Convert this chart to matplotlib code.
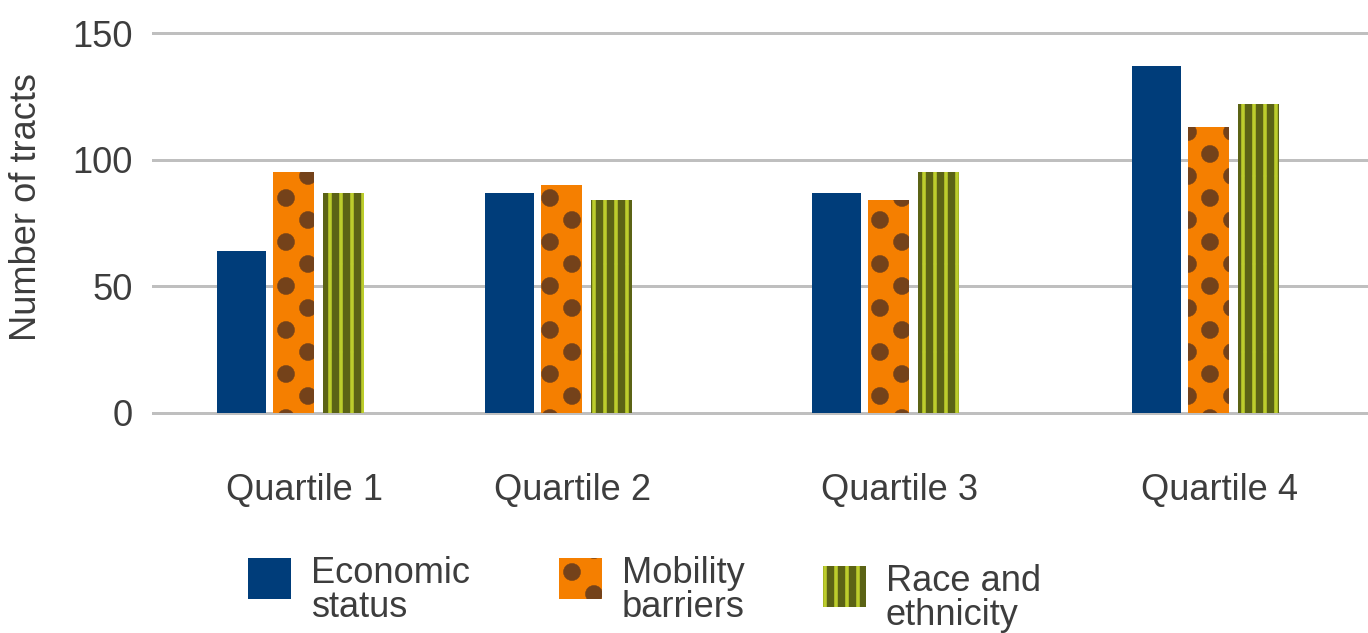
import numpy as np
import matplotlib
matplotlib.use('Agg')
import matplotlib.pyplot as plt
import matplotlib.hatch as mhatch
from matplotlib.path import Path

# data
quartiles = ['Quartile 1', 'Quartile 2', 'Quartile 3', 'Quartile 4']
economic = [64, 87, 87, 137]
mobility = [95, 90, 84, 113]
race = [87, 84, 95, 122]
series_names = ['Economic\nstatus', 'Mobility\nbarriers', 'Race and\nethnicity']

# layout: x axis runs in figure pixels (axes covers x = 152..1368)
group_left = np.array([217, 485, 812, 1132])
label_shift = 88

DPI = 88          # hatch tile = DPI px, gives ~44 px dot spacing
PT = 72 / DPI     # px -> pt


class BigDots(mhatch.HatchPatternBase):
    # staggered large filled dots, replaces the small '.' hatch
    def __init__(self, hatch, density):
        self.centers = []
        if '.' in hatch:
            for r in range(5):
                xs = [0.0, 0.5, 1.0] if r % 2 == 0 else [0.25, 0.75]
                self.centers += [(x, r * 0.25) for x in xs]
        circ = Path.unit_circle()
        self.shape = circ.vertices * 0.098
        self.shape_codes = circ.codes
        self.num_vertices = len(self.centers) * len(self.shape)

    def set_vertices_and_codes(self, vertices, codes):
        vertices[:] = np.concatenate([self.shape + c for c in self.centers])
        codes[:] = np.tile(self.shape_codes, len(self.centers))


class Stripes(mhatch.HatchPatternBase):
    # filled vertical stripes, replaces the '|' hatch
    def __init__(self, hatch, density):
        self.n = 8 if '|' in hatch else 0
        self.num_vertices = (self.n + 1) * 5 if self.n else 0

    def set_vertices_and_codes(self, vertices, codes):
        w = 0.019
        parts = []
        for i in range(self.n + 1):
            x = i / self.n
            parts.append([[x - w, 0], [x + w, 0], [x + w, 1], [x - w, 1], [x - w, 0]])
        vertices[:] = np.concatenate(parts)
        codes[:] = np.tile([Path.MOVETO, Path.LINETO, Path.LINETO,
                            Path.LINETO, Path.CLOSEPOLY], self.n + 1)


mhatch._hatch_types = [BigDots if t is mhatch.SmallFilledCircles
                       else Stripes if t is mhatch.VerticalHatch
                       else t for t in mhatch._hatch_types]

plt.rcParams['font.family'] = ['Liberation Sans', 'DejaVu Sans']
plt.rcParams['hatch.linewidth'] = 0.3
text_color = '#3d3d3d'
fs = 36.2 * PT

W, H = 1368, 633
fig = plt.figure(figsize=(W / DPI, H / DPI), dpi=DPI)
ax = fig.add_axes([152 / W, 1 - 418 / H, 1 - 152 / W, (418 - 28) / H])

b1 = ax.bar(group_left, economic, width=49, align='edge',
            color='#003d7a', linewidth=0, zorder=3)
b2 = ax.bar(group_left + 56, mobility, width=41, align='edge',
            color='#f57f00', edgecolor='#74421a', linewidth=0,
            hatch='.', zorder=3)
b3 = ax.bar(group_left + 106, race, width=41, align='edge',
            color='#5b6315', edgecolor='#bccd2c', linewidth=0,
            hatch='|', zorder=3)

ax.set_xlim(152, W)
ax.set_ylim(-2, 152)
ax.set_yticks([0, 50, 100, 150])
ax.set_xticks(group_left + label_shift)
ax.set_xticklabels(quartiles)
ax.grid(axis='y', color='#bfbfbf', linewidth=3 * PT, zorder=0)
for s in ax.spines.values():
    s.set_visible(False)
ax.tick_params(axis='y', length=0, pad=19 * PT, labelsize=fs, labelcolor=text_color)
ax.tick_params(axis='x', length=0, pad=55 * PT, labelsize=fs, labelcolor=text_color)

fig.text(27 / W, 1 - 207 / H, 'Number of tracts', rotation=90,
         ha='center', va='center', fontsize=fs, color=text_color)

leg_kw = dict(loc='upper left', frameon=False, fontsize=fs,
              handlelength=1.18, handleheight=1.38, handletextpad=0.55,
              borderpad=0, borderaxespad=0, labelcolor=text_color)
leg1 = fig.legend([b1, b2], series_names[:2], ncol=2,
                  bbox_to_anchor=(248 / W, 1 - 556 / H), columnspacing=2.48,
                  **leg_kw)
leg2 = fig.legend([b3], series_names[2:], ncol=1,
                  bbox_to_anchor=(823 / W, 1 - 564 / H), **leg_kw)
for leg in (leg1, leg2):
    for t in leg.get_texts():
        t.set_linespacing(0.95)
    # lift the swatches so their tops line up with the first text line
    for h in leg.legend_handles:
        h.set_y(h.get_y() + 13 * PT)

fig.savefig('out.png', dpi=DPI)
